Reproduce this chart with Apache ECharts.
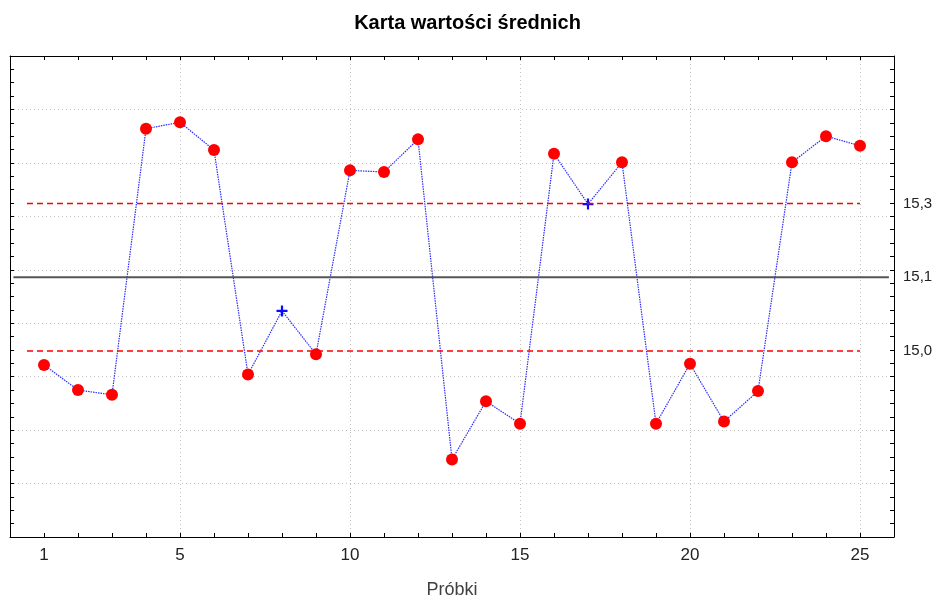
<!DOCTYPE html>
<html>
<head>
<meta charset="utf-8">
<title>Karta wartości średnich</title>
<script src="https://cdn.jsdelivr.net/npm/echarts@6/dist/echarts.min.js"></script>
<style>
  html, body { margin: 0; padding: 0; background: #fff; }
  #main { width: 935px; height: 599px; }
</style>
</head>
<body>
<div id="main"></div>
<script>
// numery próbek i średnie
var samples = [1, 2, 3, 4, 5, 6, 7, 8, 9, 10, 11, 12, 13, 14, 15, 16, 17, 18, 19, 20, 21, 22, 23, 24, 25];
var means = [14.972, 14.925, 14.916, 15.414, 15.426, 15.374, 14.954, 15.073, 14.992, 15.336,
  15.333, 15.394, 14.795, 14.904, 14.862, 15.367, 15.273, 15.351, 14.862, 14.974,
  14.866, 14.923, 15.351, 15.400, 15.382];

// linie kontrolne: górna, centralna, dolna
var limitValues = [15.274, 15.136, 14.998];

// podziałki
var xLabels = [1, 5, 10, 15, 20, 25];
var yGrid = [14.65, 14.75, 14.85, 14.95, 15.05, 15.15, 15.25, 15.35, 15.45, 15.55];

var yMin = yGrid[0], yMax = yGrid[yGrid.length - 1];

// drobne kreski co 1/4 podziałki
var yMinor = [];
for (var i = 0; i < yGrid.length; i++) {
  yMinor.push(yGrid[i]);
  if (i < yGrid.length - 1) {
    for (var k = 1; k < 4; k++) {
      yMinor.push(+(yGrid[i] + (yGrid[i + 1] - yGrid[i]) * k / 4).toFixed(4));
    }
  }
}

var UCL = limitValues[0], CL = limitValues[1], LCL = limitValues[2];
var plusPath = 'path://M4,0h2v4h4v2h-4v4h-2v-4h-4v-2h4z';

var points = samples.map(function (s, i) {
  var v = means[i];
  var inside = v <= UCL && v >= LCL;
  return {
    value: [s, v],
    symbol: inside ? plusPath : 'circle',
    symbolSize: inside ? 11 : 12,
    itemStyle: { color: inside ? '#0a0aff' : '#ff0000' }
  };
});

// linia pozioma jako osobna seria
function limitLine(name, x0, x1, y, color, type, width) {
  return {
    name: name,
    type: 'line',
    xAxisIndex: 0,
    yAxisIndex: 0,
    color: color,
    data: [[x0, y], [x1, y]],
    symbol: 'none',
    silent: true,
    itemStyle: { color: color },
    lineStyle: { color: color, type: type, width: width },
    z: 5
  };
}

var sans = '"Liberation Sans", Arial, sans-serif';
var frame = { show: true, onZero: false, lineStyle: { color: '#000', width: 1 } };
var noShow = { show: false };

var myChart = echarts.init(document.getElementById('main'), null, { renderer: 'canvas' });

myChart.setOption({
  animation: false,
  backgroundColor: '#fff',
  title: {
    text: 'Karta wartości średnich',
    left: 'center',
    top: 8,
    textStyle: { fontFamily: sans, fontSize: 20, fontWeight: 'bold', color: '#000' }
  },
  grid: { left: 10, right: 41, top: 56, bottom: 62, containLabel: false, outerBoundsMode: 'none' },
  xAxis: [
    {
      type: 'value', position: 'bottom', min: 0, max: 26, interval: 1,
      axisLine: frame,
      axisTick: { show: true, inside: true, length: 4, lineStyle: { color: '#000' } },
      axisLabel: {
        customValues: xLabels, margin: 10, fontSize: 17, color: '#222', fontFamily: sans
      },
      splitLine: noShow,
      name: 'Próbki', nameLocation: 'middle', nameGap: 44,
      nameTextStyle: { fontSize: 18, color: '#404040', fontFamily: sans }
    },
    {
      type: 'value', position: 'top', min: 0, max: 26, interval: 1,
      axisLine: frame,
      axisTick: { show: true, inside: true, length: 4, lineStyle: { color: '#000' } },
      axisLabel: noShow, splitLine: noShow
    },
    {
      // pionowa siatka
      type: 'value', position: 'bottom', min: 0, max: 26, interval: 5,
      axisLine: noShow, axisTick: noShow, axisLabel: noShow,
      splitLine: { show: true, lineStyle: { color: '#c0c0c0', type: [1, 3], width: 1 } }
    }
  ],
  yAxis: [
    {
      type: 'value', position: 'left', min: yMin, max: yMax,
      axisLine: frame,
      axisTick: { show: true, inside: true, length: 4, customValues: yMinor, lineStyle: { color: '#000' } },
      axisLabel: noShow, splitLine: noShow
    },
    {
      type: 'value', position: 'right', min: yMin, max: yMax,
      axisLine: frame,
      axisTick: { show: true, inside: true, length: 4, customValues: yMinor, lineStyle: { color: '#000' } },
      axisLabel: {
        customValues: limitValues, margin: 9, fontSize: 15, color: '#222', fontFamily: sans,
        formatter: function (v) { return v.toFixed(1).replace('.', ','); }
      },
      splitLine: noShow
    },
    {
      // pozioma siatka
      type: 'value', position: 'left', min: yMin, max: yMax,
      axisLine: noShow,
      axisTick: { show: false, customValues: yGrid },
      axisLabel: noShow,
      splitLine: { show: true, lineStyle: { color: '#c0c0c0', type: [1, 3], width: 1 } }
    }
  ],
  series: [
    limitLine('CL', 0.1, 25.85, CL, '#555555', 'solid', 2),
    limitLine('LCL', 0.5, 25, LCL, '#ff0000', [6, 4], 1.5),
    limitLine('UCL', 0.5, 25, UCL, '#ff0000', [6, 4], 1.5),
    {
      name: 'Średnie',
      type: 'line',
      xAxisIndex: 0,
      yAxisIndex: 0,
      data: points,
      showAllSymbol: true,
      lineStyle: { color: '#2c2cff', width: 1.2, type: [1.5, 1] },
      z: 3
    }
  ]
});
</script>
</body>
</html>
